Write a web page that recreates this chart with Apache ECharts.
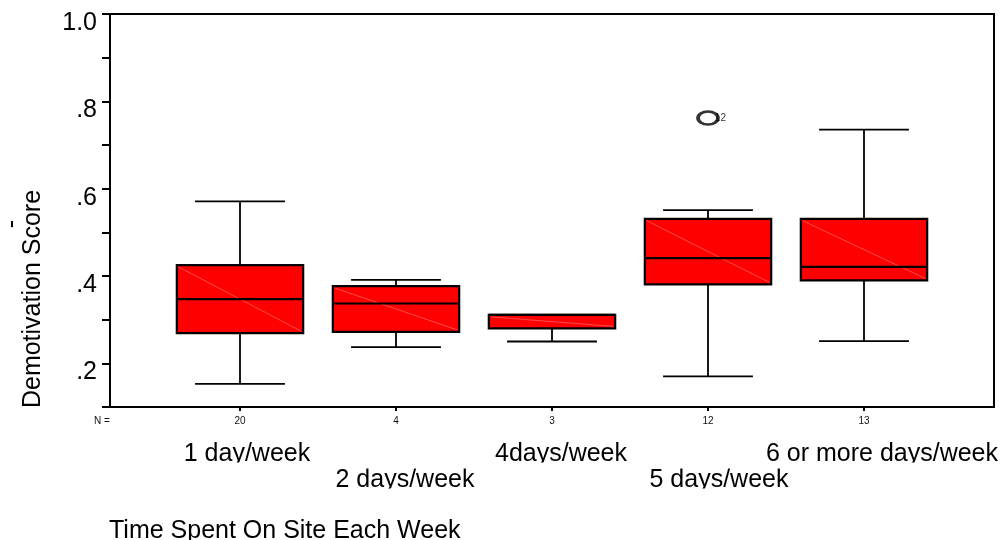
<!DOCTYPE html>
<html>
<head>
<meta charset="utf-8">
<script src="https://cdn.jsdelivr.net/npm/echarts@6/dist/echarts.min.js"></script>
<style>html,body{margin:0;padding:0;background:#fff;}#c{width:1005px;height:540px;}</style>
</head>
<body>
<div id="c"></div>
<script>
// ---- data ----
var categories = ['1 day/week', '2 days/week', '4days/week', '5 days/week', '6 or more days/week'];
var nCounts = [20, 4, 3, 12, 13];
var minVals = [0.153, 0.237, 0.250, 0.170, 0.251];
var q1Vals  = [0.269, 0.272, 0.280, 0.381, 0.390];
var medVals = [0.347, 0.337, 0.311, 0.441, 0.421];
var q3Vals  = [0.425, 0.377, 0.311, 0.531, 0.531];
var maxVals = [0.571, 0.391, 0.311, 0.551, 0.735];
var outlierCat = [4];
var outlierVal = [0.762];
var outlierCase = ['12'];
var yTickLabels = {2: '.2', 4: '.4', 6: '.6', 8: '.8', 10: '1.0'};

var FONT = "'Liberation Sans', Arial, sans-serif";
var chart = echarts.init(document.getElementById('c'), null, {renderer: 'canvas'});

var boxData = categories.map(function (c, i) {
  return [i + 1, minVals[i], q1Vals[i], medVals[i], q3Vals[i], maxVals[i]];
});
var outData = outlierCat.map(function (c, i) { return [c, outlierVal[i], outlierCase[i]]; });

// label horizontal shift style (px), applied via rich padding
var labelShift = [7, 9, 9, 11, 18];
var rich = {};
categories.forEach(function (c, i) {
  rich['c' + i] = {
    fontSize: 25, fontFamily: FONT, color: '#000', lineHeight: 25,
    padding: [0, 0, 0, labelShift[i] * 2]
  };
});
function catLabel(v) { var i = Math.round(v) - 1; return '{c' + i + '|' + categories[i] + '}'; }

function renderBox(params, api) {
  var x = api.value(0);
  var mn = api.value(1), q1 = api.value(2), md = api.value(3), q3 = api.value(4), mx = api.value(5);
  var pMin = api.coord([x, mn]), pQ1 = api.coord([x, q1]), pMd = api.coord([x, md]);
  var pQ3 = api.coord([x, q3]), pMax = api.coord([x, mx]);
  var bw = api.size([1, 0])[0];
  var half = bw * 0.405, capHalf = bw * 0.288;
  var cx = pMd[0];
  var wStyle = {stroke: '#000', lineWidth: 1.8};
  var children = [
    {type: 'line', shape: {x1: cx, y1: pQ1[1], x2: cx, y2: pMin[1]}, style: wStyle},
    {type: 'line', shape: {x1: cx - capHalf, y1: pMin[1], x2: cx + capHalf, y2: pMin[1]}, style: wStyle}
  ];
  if (mx > q3) {
    children.push({type: 'line', shape: {x1: cx, y1: pQ3[1], x2: cx, y2: pMax[1]}, style: wStyle});
    children.push({type: 'line', shape: {x1: cx - capHalf, y1: pMax[1], x2: cx + capHalf, y2: pMax[1]}, style: wStyle});
  }
  children.push({type: 'rect', shape: {x: cx - half, y: pQ3[1], width: half * 2, height: pQ1[1] - pQ3[1]},
    style: {fill: '#ff0000', stroke: '#000', lineWidth: 2.2}});
  children.push({type: 'line', shape: {x1: cx - half + 2, y1: pQ3[1] + 2, x2: cx + half - 2, y2: pQ1[1] - 2},
    style: {stroke: '#ff8080', lineWidth: 0.6}});
  children.push({type: 'line', shape: {x1: cx - half, y1: pMd[1], x2: cx + half, y2: pMd[1]},
    style: {stroke: '#000', lineWidth: 2.2}});
  return {type: 'group', children: children};
}

function catAxis(values, margin) {
  return {
    type: 'value', min: 1 / 6, max: 35 / 6, position: 'bottom', gridIndex: 0,
    axisLine: {show: false}, axisTick: {show: false}, splitLine: {show: false},
    axisLabel: {show: true, customValues: values, margin: margin, rich: rich, hideOverlap: false,
      formatter: catLabel}
  };
}

var option = {
  animation: false,
  backgroundColor: '#fff',
  textStyle: {fontFamily: FONT},
  grid: {left: 110, top: 14, width: 884, height: 393, show: true, borderColor: '#000', borderWidth: 2, backgroundColor: 'transparent'},
  title: {
    text: 'Time Spent On Site Each Week', left: 109, top: 519, padding: 0,
    textStyle: {fontSize: 25, fontWeight: 'normal', color: '#000', fontFamily: FONT}
  },
  xAxis: [{
    type: 'value', min: 1 / 6, max: 35 / 6, position: 'bottom',
    axisLine: {show: true, lineStyle: {color: '#000', width: 2}},
    axisTick: {show: true, customValues: [1, 2, 3, 4, 5], length: 4, lineStyle: {color: '#000', width: 2}},
    axisLabel: {show: true, customValues: [1, 2, 3, 4, 5], margin: 9, fontSize: 10, color: '#111',
      formatter: function (v) { return String(nCounts[Math.round(v) - 1]); }},
    splitLine: {show: false}
  },
    catAxis([1, 3, 5], 35),
    catAxis([2, 4], 61)
  ],
  yAxis: {
    type: 'value', min: 0.1, max: 1.0, interval: 0.1,
    axisLine: {show: true, lineStyle: {color: '#000', width: 2}},
    axisTick: {show: true, length: 8, lineStyle: {color: '#000', width: 2}},
    axisLabel: {margin: 13, fontSize: 25, color: '#000', verticalAlign: 'top', lineHeight: 18,
      formatter: function (v) { var k = Math.round(v * 10); return yTickLabels[k] || ''; }},
    splitLine: {show: false}
  },
  graphic: [
    {type: 'text', x: 33, y: 299, rotation: Math.PI / 2,
      style: {text: 'Demotivation Score', fontSize: 25, fontFamily: FONT, fill: '#000', align: 'center', verticalAlign: 'middle'}},
    {type: 'text', x: 12, y: 224, rotation: Math.PI / 2,
      style: {text: '-', fontSize: 25, fontFamily: FONT, fill: '#000', align: 'center', verticalAlign: 'middle'}},
    {type: 'text', x: 102, y: 421,
      style: {text: 'N =', fontSize: 10, fontFamily: FONT, fill: '#111', align: 'center', verticalAlign: 'middle'}},
    // the source clips the descenders of the category label rows
    {type: 'rect', z: 100, shape: {x: 150, y: 462.5, width: 855, height: 6}, style: {fill: '#fff'}},
    {type: 'rect', z: 100, shape: {x: 300, y: 488.5, width: 520, height: 6}, style: {fill: '#fff'}}
  ],
  series: [{
    type: 'custom', name: 'box', xAxisIndex: 0, yAxisIndex: 0,
    renderItem: renderBox, data: boxData, clip: false,
    encode: {x: 0, y: [1, 2, 3, 4, 5]}
  }, {
    type: 'scatter', name: 'outlier', xAxisIndex: 0, yAxisIndex: 0,
    data: outData, symbol: 'circle', symbolSize: [20, 13],
    itemStyle: {color: '#fff', borderColor: '#000', borderWidth: 3},
    label: {show: true, position: 'right', distance: -5, fontSize: 10, color: '#000',
      formatter: function (p) { return p.data[2]; }}
  }]
};
chart.setOption(option);
</script>
</body>
</html>
